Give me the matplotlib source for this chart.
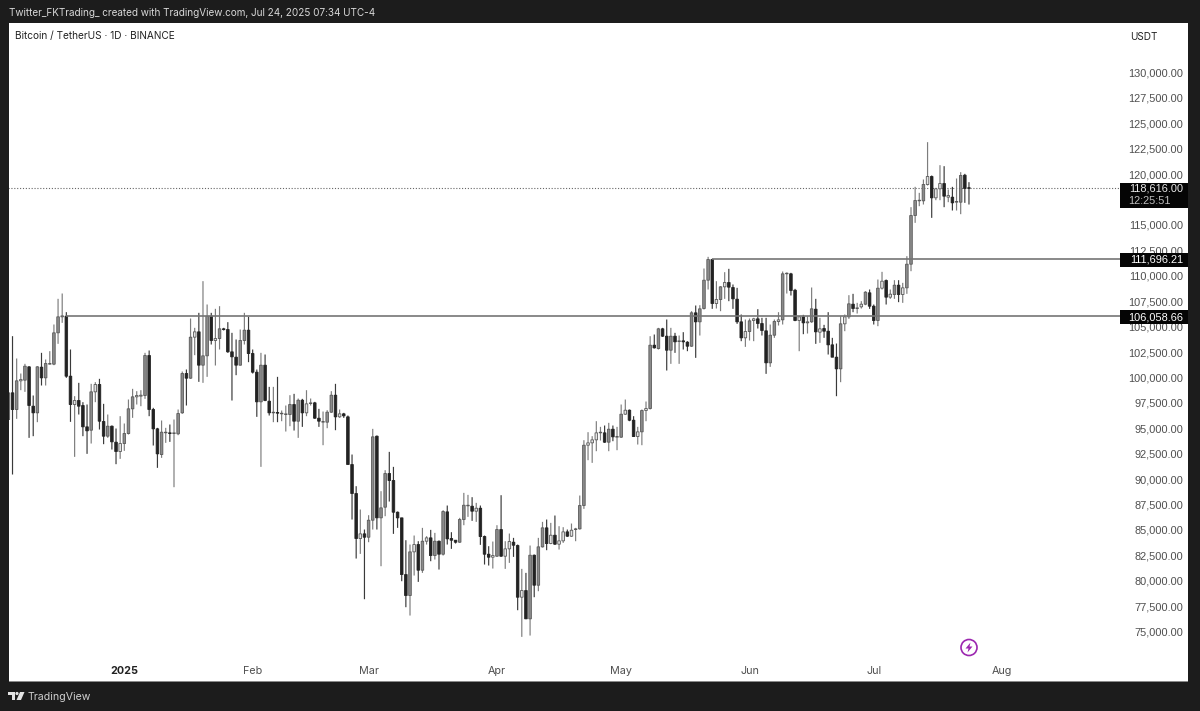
import pandas as pd
import matplotlib
matplotlib.use('Agg')
import matplotlib.pyplot as plt
import matplotlib.dates as mdates
from matplotlib.patches import Rectangle, Circle, Polygon
from matplotlib.transforms import Affine2D

plt.rcParams['font.family'] = ['Inter', 'DejaVu Sans']
PRICE_FONT = ['Liberation Sans', 'DejaVu Sans']

# daily BTCUSDT candles, one line per month (Dec 4 - Jul 24)
opens = [
    95858,98482,96842,99663,99728,101040,97170,96514,101008,99958,101303,101303,104386,105960,106026,100122,97334,97728,97236,95136,94808,98580,99302,95661,94218,95202,93628,92709,
    93496,94480,96908,98088,98154,98220,102156,96842,94940,92414,94546,94546,94480,94448,96514,100384,99925,103960,104484,101204,102123,106026,103632,103828,104780,104714,102516,101992,101204,103632,104648,
    102352,100516,97596,101204,97661,96513,96546,96415,96349,96349,97333,95693,97759,96513,97431,97497,95988,95595,95595,96579,98251,96119,96415,96119,91429,88575,84147,84607,
    84279,85951,94217,86181,87231,90543,89855,86739,86181,80605,78539,82835,83557,81031,83885,84213,82475,83885,82606,86771,84147,83983,83787,86017,87362,87329,86837,87132,84344,82606,82311,
    82409,85033,82409,83131,83787,83458,78375,79031,76243,82507,79555,83327,85197,83655,84475,83590,83918,84803,84377,85033,85099,87395,93331,93561,93856,94545,94545,93627,94906,94119,
    94119,96382,96775,95791,94184,94643,96743,96939,103171,102843,104779,104057,102679,104057,103532,103598,103467,103073,106353,105467,106779,109567,111601,107271,107665,108911,109338,108846,107698,105467,103893,
    104516,105599,105763,105303,104582,101433,104155,105500,105664,110191,110191,108583,105599,105959,105369,105467,106714,104451,104811,104549,103204,101991,100843,105271,105959,107206,106779,106943,107206,108321,
    107009,105599,108780,109535,107895,108157,109075,108157,108812,111141,115930,117373,117373,118980,119767,117668,118554,119078,117734,117734,117242,117242,119898,118650,
]
closes = [
    98482,96842,99663,99794,101106,97236,96514,101040,99958,101368,101368,104386,105960,106059,100122,97334,97728,97170,95136,94743,98580,99302,95694,94218,95202,93660,92709,93496,
    94480,96908,98088,98220,98252,102156,96842,94940,92480,94612,94612,94480,94546,96448,100384,99925,103960,104484,101204,102123,106026,103632,103828,104780,104714,102516,102024,101204,103632,104648,102352,
    100516,97596,101204,97728,96513,96579,96480,96480,96415,97333,95693,97759,96513,97399,97497,95988,95693,95660,96579,98251,96119,96415,96218,91429,88575,84147,84607,84279,
    85951,94151,86181,87165,90543,89855,86739,86181,80605,78539,82835,83557,81031,83885,84213,82475,83885,82606,86804,84115,83983,83787,86017,87427,87427,86837,87132,84344,82606,82311,82475,
    85033,82409,83131,83852,83491,78375,79031,76243,82507,79555,83327,85197,83655,84475,83590,83918,84803,84377,84967,85099,87395,93331,93561,93856,94545,94611,93627,94906,94151,94184,
    96382,96775,95791,94184,94643,96743,96939,103171,102909,104779,104057,102679,104057,103499,103598,103499,103073,106353,105467,106747,109567,111601,107271,107665,108911,109338,108879,107731,105467,103893,104516,
    105566,105763,105303,104615,101433,104155,105500,105664,110191,110256,108551,105599,105959,105369,105467,106747,104483,104779,104549,103204,101991,100843,105271,105959,107239,106779,106845,107206,108387,107009,
    105599,108780,109469,107895,108190,109075,108157,108813,111141,115930,117406,117438,118980,119767,117668,118554,119078,117832,117898,117176,117307,119866,118586,118616,
]
highs = [
    98482,104058,101860,100384,101336,101106,98220,101106,102418,101762,102582,105206,107732,108256,106420,102746,98154,99466,97564,97334,99368,99532,99860,97400,96350,95268,94972,96186,
    95464,97826,98876,98646,98744,102418,102648,97006,95038,95760,95038,95366,95858,96842,100581,100778,105796,104878,106354,109470,107174,106354,106748,107010,104878,105436,104386,103730,104714,106354,105960,
    102746,100778,102418,102254,99071,99071,100055,96743,97235,98251,98383,97923,97891,98743,97923,97595,96907,96644,96775,98645,99367,96841,96513,96251,92413,89297,87001,85033,
    86443,94939,94283,88805,90871,92675,91199,86804,86181,83983,83557,84443,83885,85197,84377,85000,84705,83951,86935,87395,84771,83983,86181,88641,88444,88215,87657,87395,84443,83393,83852,
    85459,88411,83885,84639,84213,83557,81163,80769,83458,82573,84213,85787,86017,85689,86411,85361,85263,85033,85623,85197,88379,93823,94611,94217,95693,95135,95267,95529,95267,95135,
    97333,97825,96841,96185,95135,96841,97628,104057,104221,104877,104877,105697,104877,104385,104123,104451,103565,106517,107075,107107,110715,111863,111667,109469,108977,110355,110683,109141,108813,106189,105697,
    105795,105861,106713,105861,105861,105205,105697,106419,110420,110322,110289,108715,106025,106156,106025,108846,107731,105861,105172,106419,103893,103335,106025,106189,108091,108223,107337,107501,108485,108649,
    107173,109633,110387,109633,108649,109567,109567,109305,111928,116750,118750,118160,119472,123146,119866,118652,120882,120784,118488,118750,119570,120194,120030,119210,
]
lows = [
    95792,90446,95924,98744,98580,94054,94218,95596,99204,99204,101270,101204,103304,105370,99958,95628,92184,96350,94218,92480,93496,97564,94874,93431,94054,92906,91463,91988,
    92775,94382,96022,97334,97170,97892,96186,93300,91102,92086,93562,93660,89200,94316,96416,97236,99860,102188,99564,99466,100056,103238,101172,102746,104616,102418,97728,100220,101172,103238,101500,
    100384,96120,91200,97662,96251,95595,95595,95693,94676,95201,94775,94053,95135,96185,97235,95923,95135,93331,95004,96513,94807,96021,96021,91429,86017,82179,82639,78178,
    83787,85033,85033,81425,86345,87788,84607,85197,79949,77391,76571,80507,79883,80769,83557,81917,82081,81097,82475,83557,83131,83656,83721,85459,86279,85886,85787,83524,81589,81491,81195,
    82343,82343,81163,81753,82343,77095,74472,76243,74603,78375,78965,83262,83000,83590,83524,83065,83721,84311,84311,83885,85033,87067,91855,91593,92741,93791,93561,92741,93725,92839,
    94053,96316,95693,94151,93397,93331,95693,96841,102843,102745,103991,100679,101335,102417,101335,102745,102581,103007,101925,104123,106681,108649,106747,106779,106517,107731,107501,106747,105271,103565,103007,
    103631,103565,104811,104123,100351,101039,103893,105107,105205,108255,108059,105533,102581,104254,104319,105369,103303,103401,103893,102253,101991,98153,99531,104549,105763,106419,106287,106779,107107,106747,
    105205,105041,108649,107173,107731,107731,107403,107337,108222,110452,115208,116848,117012,118882,115700,117438,117438,116750,117242,116422,116422,116061,117176,117012,
]

price_ticks = [75000 + 2500 * i for i in range(23)]
month_ticks = ['2025-01-01', '2025-02-01', '2025-03-01', '2025-04-01', '2025-05-01', '2025-06-01', '2025-07-01', '2025-08-01']
month_labels = ['2025', 'Feb', 'Mar', 'Apr', 'May', 'Jun', 'Jul', 'Aug']

level_low = 106058.66
level_high = 111696.21
last_price = 118616.00

df = pd.DataFrame({'open': opens, 'high': highs, 'low': lows, 'close': closes},
                  index=pd.date_range('2024-12-04', '2025-07-24', freq='D'))
df['x'] = mdates.date2num(df.index)
up = df[df['close'] >= df['open']]
down = df[df['close'] < df['open']]

BG = '#1c1c1c'
fig = plt.figure(figsize=(12, 7.11), dpi=100, facecolor=BG)
# pixel coordinates measured from the top left of the picture
px = Affine2D().scale(1, -1).translate(0, 711)

ax = fig.add_axes([8.5 / 1200, 1 - 681 / 711, 1179.5 / 1200, 658 / 711])
ax.set_facecolor('white')
for s in ax.spines.values():
    s.set_visible(False)

# wicks and bodies, up candles read gray in the screenshot and only the small ones stay pale
ax.vlines(up['x'], up['low'], up['high'], color='#7d7d7d', linewidth=0.85, zorder=2).set_snap(False)
ax.vlines(down['x'], down['low'], down['high'], color='#3a3a3a', linewidth=0.85, zorder=2).set_snap(False)
up_faces = ['#e4e4e4' if h < 900 else '#8b8b8b' for h in up['close'] - up['open']]
for b in ax.bar(up['x'], (up['close'] - up['open']).clip(lower=40), bottom=up['open'], width=0.62,
                color=up_faces, edgecolor='#585858', linewidth=0.6, zorder=3):
    b.set_snap(False)
for b in ax.bar(down['x'], (down['open'] - down['close']).clip(lower=40), bottom=down['close'], width=0.62,
                color='#222222', edgecolor='#222222', linewidth=0.6, zorder=3):
    b.set_snap(False)

x0 = mdates.date2num(pd.Timestamp('2025-01-01'))
ax.set_xlim(x0 - 27.97, x0 + 256.9)
ax.set_ylim(70130, 134871)

# level lines run into the price tags
tag_edge = x0 + (1120 - 124.3) / 4.14
ax.hlines(level_low, mdates.date2num(pd.Timestamp('2024-12-18')), tag_edge, color='#757575', linewidth=1.2, zorder=4)
ax.hlines(level_high, mdates.date2num(pd.Timestamp('2025-05-23')), tag_edge, color='#757575', linewidth=1.2, zorder=4)
ax.hlines(last_price, x0 - 27.97, tag_edge, color='#666666', linewidth=0.8, linestyle=(0, (1, 1.6)), zorder=1)

ax.set_yticks(price_ticks)
# 117,500 sits fully behind the last price tag
ax.set_yticklabels(['' if v == 117500 else f'{v:,.2f}' for v in price_ticks])
ax.yaxis.tick_right()
ax.tick_params(axis='y', length=0, pad=-3.6, labelsize=7.9, labelcolor='#4f4f4f')
for t in ax.get_yticklabels():
    t.set_horizontalalignment('right')
    t.set_family(PRICE_FONT)

ax.set_xticks(mdates.date2num(pd.to_datetime(month_ticks)))
ax.set_xticklabels(month_labels)
ax.tick_params(axis='x', length=0, pad=-3.6, labelsize=7.75, labelcolor='#4f4f4f')
for t in ax.get_xticklabels():
    t.set_verticalalignment('bottom')
ax.get_xticklabels()[0].set_fontweight('bold')
ax.get_xticklabels()[0].set_color('#222222')

# header, pane title, footer
fig.text(9, 13, 'Twitter_FKTrading_ created with TradingView.com, Jul 24, 2025 07:34 UTC-4',
         transform=px, color='#d8d8d8', fontsize=7.17, va='center')
fig.text(15, 36, 'Bitcoin / TetherUS · 1D · BINANCE', transform=px, color='#222222', fontsize=7.25, va='center')
fig.text(1130, 37, 'USDT', transform=px, color='#222222', fontsize=7.2, va='center')
fig.text(28, 696.5, 'TradingView', transform=px, color='#d0d0d0', fontsize=7.6, va='center')

# bottom edge of the pane
fig.add_artist(Rectangle((8.5, 680.5), 1179.5, 1, transform=px, facecolor='#8a8a8a', edgecolor='none', zorder=5))

# price tags
def tag(y0, y1, zorder=6):
    fig.add_artist(Rectangle((1120, y0), 68, y1 - y0, transform=px, facecolor='#050505', edgecolor='none', zorder=zorder))

tag(182.5, 208)
tag(253, 267)
tag(310, 324)
fig.text(1183, 188.5, f'{last_price:,.2f}', transform=px, color='#e8e8e8', fontsize=7.9, family=PRICE_FONT, ha='right', va='center', zorder=7)
fig.text(1128, 200.5, '12:25:51', transform=px, color='#bdbdbd', fontsize=7.9, family=PRICE_FONT, ha='left', va='center', zorder=7)
fig.text(1183, 260, f'{level_high:,.2f}', transform=px, color='#ffffff', fontsize=7.9, family=PRICE_FONT, ha='right', va='center', zorder=7)
fig.text(1183, 317, f'{level_low:,.2f}', transform=px, color='#ffffff', fontsize=7.9, family=PRICE_FONT, ha='right', va='center', zorder=7)

# TradingView logo
fig.add_artist(Polygon([(8, 692), (15, 692), (15, 700), (11.5, 700), (11.5, 695), (8, 695)], transform=px,
                       facecolor='#e4e4e4', edgecolor='none', zorder=5))
fig.add_artist(Circle((17, 693.5), 1.6, transform=px, facecolor='#e4e4e4', edgecolor='none', zorder=5))
fig.add_artist(Polygon([(20, 692), (24.5, 692), (21, 700), (16.5, 700)], transform=px,
                       facecolor='#e4e4e4', edgecolor='none', zorder=5))

# lightning badge under the last candle
fig.add_artist(Circle((969, 647.5), 8, transform=px, facecolor='white', edgecolor='#9c27b0', linewidth=1.2, zorder=5))
fig.add_artist(Polygon([(970.5, 642.5), (965.5, 648.5), (968.5, 648.5), (967.5, 652.5), (972.5, 646.5), (969.5, 646.5)],
                       transform=px, facecolor='#9c27b0', edgecolor='none', zorder=6))

fig.savefig('out.png', dpi=100, facecolor=BG)
